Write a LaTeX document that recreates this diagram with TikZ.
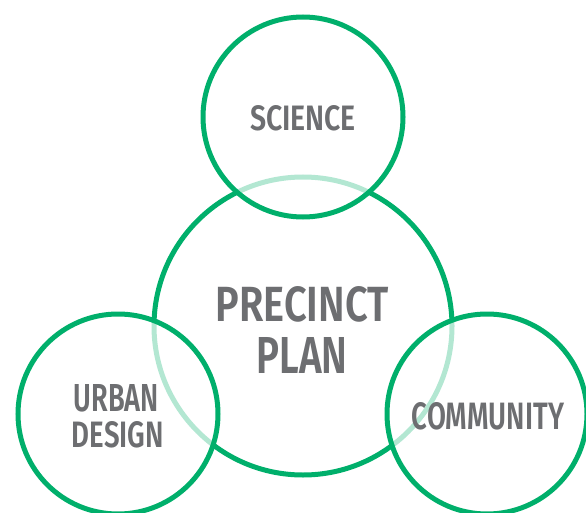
\documentclass[tikz,border=0pt]{standalone}
\usepackage{fontspec}
\newfontfamily\labfont{Fira Sans}[BoldFont={* SemiBold}]
\definecolor{ringgreen}{HTML}{00AF6B}
\definecolor{labgray}{HTML}{6D6E71}
\begin{document}
\begin{tikzpicture}[x=1pt,y=-1pt,
  ring/.style={circle,draw=ringgreen,line width=5pt,inner sep=0pt},
  smallring/.style={ring,minimum size=200pt,fill=white,fill opacity=0.7,draw opacity=1},
  lab/.style={inner sep=0pt,text=labgray,font=\labfont\bfseries}]
\useasboundingbox (0,0) rectangle (586,513);
\node[ring,minimum size=298pt] (plan) at (303,326) {};
\node[smallring] (sci) at (303,117) {};
\node[smallring] (urb) at (118,414) {};
\node[smallring] (com) at (487,414) {};
\node[lab] (tsci) at (303,118) {\resizebox{106pt}{25pt}{SCIENCE}};
\node[lab] (tpre) at (302,304) {\resizebox{173pt}{35pt}{PRECINCT}};
\node[lab] (tpla) at (302,355) {\resizebox{91pt}{36pt}{PLAN}};
\node[lab] (turb) at (116.5,398.5) {\resizebox{85pt}{27pt}{URBAN}};
\node[lab] (tdes) at (118,435) {\resizebox{92pt}{26pt}{DESIGN}};
\node[lab] (tcom) at (488,416.5) {\resizebox{152pt}{27pt}{COMMUNITY}};
\end{tikzpicture}
\end{document}
